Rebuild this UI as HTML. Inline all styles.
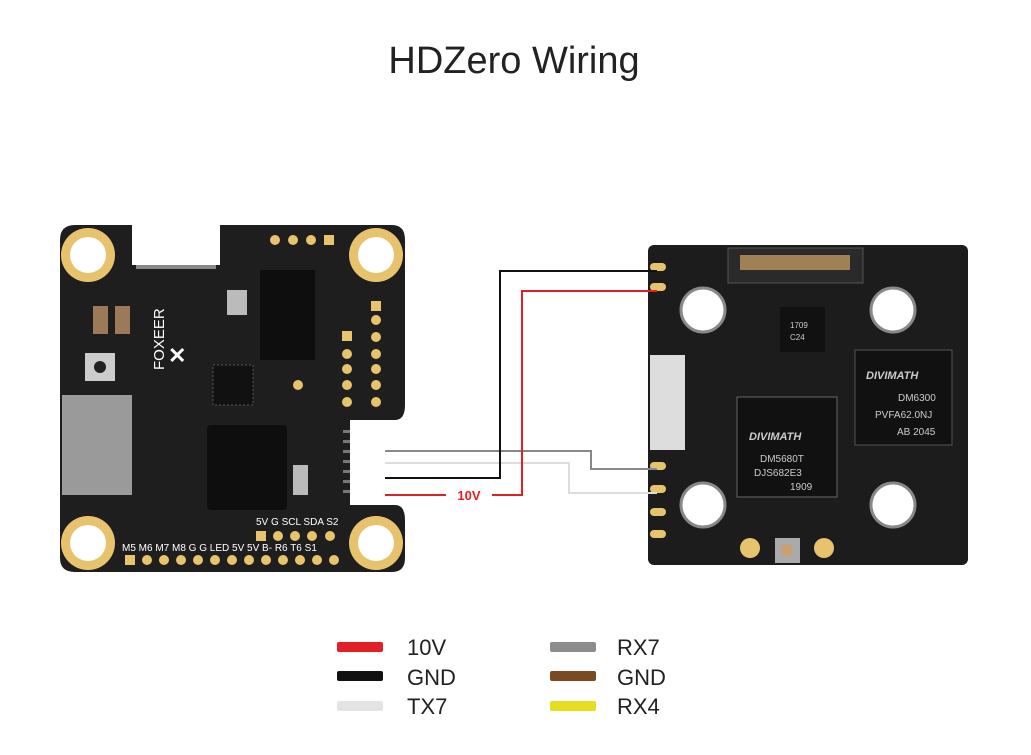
<!DOCTYPE html>
<html><head><meta charset="utf-8"><style>
html,body{margin:0;padding:0;background:#fff;}
svg{display:block;}
text{font-family:"Liberation Sans",sans-serif;}
</style></head><body>
<svg width="1031" height="755" viewBox="0 0 1031 755" xmlns="http://www.w3.org/2000/svg">
<rect width="1031" height="755" fill="#fff"/>
<text x="514" y="73" text-anchor="middle" font-size="38" fill="#222">HDZero Wiring</text>

<!-- FC board -->
<path d="M75,225 H392 Q405,225 405,240 V405 Q405,420 395,420 H350 V505 H395 Q405,505 405,520 V558 Q405,572 392,572 H75 Q60,572 60,558 V240 Q60,225 75,225 Z" fill="#1e1e1e"/>
<rect x="350" y="425" width="32" height="77" fill="#fff"/>
<g fill="#777"><rect x="343" y="430" width="7" height="3"/><rect x="343" y="440" width="7" height="3"/><rect x="343" y="450" width="7" height="3"/><rect x="343" y="460" width="7" height="3"/><rect x="343" y="470" width="7" height="3"/><rect x="343" y="480" width="7" height="3"/><rect x="343" y="490" width="7" height="3"/></g>
<g fill="#e8c36e"><circle cx="88" cy="255" r="27"/><circle cx="376" cy="255" r="27"/><circle cx="88" cy="543" r="27"/><circle cx="376" cy="543" r="27"/></g>
<g fill="#fff"><circle cx="88" cy="255" r="18"/><circle cx="376" cy="255" r="18"/><circle cx="88" cy="543" r="18"/><circle cx="376" cy="543" r="18"/></g>
<rect x="132" y="225" width="88" height="40" fill="#fff"/>
<g fill="#888"><rect x="136" y="265" width="80" height="4"/></g>
<rect x="62" y="395" width="70" height="100" fill="#9a9a9a"/>
<rect x="85" y="353" width="30" height="28" fill="#ccc"/><circle cx="100" cy="367" r="6" fill="#222"/>
<rect x="93" y="306" width="15" height="28" fill="#9c7a58"/><rect x="115" y="306" width="15" height="28" fill="#9c7a58"/>
<rect x="207" y="425" width="80" height="85" fill="#0e0e0e" rx="4"/>
<rect x="260" y="270" width="55" height="90" fill="#0e0e0e"/>
<rect x="213" y="365" width="40" height="40" fill="#111" stroke="#555" stroke-dasharray="2,2"/>
<rect x="227" y="290" width="20" height="25" fill="#bbb"/>
<rect x="293" y="465" width="15" height="30" fill="#bbb"/>
<text x="164" y="370" font-size="15" fill="#fff" transform="rotate(-90 164 370)">FOXEER</text>
<text x="168" y="363" font-size="22" fill="#fff" font-weight="bold">✕</text>
<g fill="#e8c36e">
<circle cx="275" cy="240" r="5"/><circle cx="293" cy="240" r="5"/><circle cx="311" cy="240" r="5"/><rect x="324" y="235" width="10" height="10"/>
<rect x="342" y="331" width="10" height="10"/><circle cx="347" cy="354" r="5"/><circle cx="347" cy="369" r="5"/><circle cx="347" cy="385" r="5"/><circle cx="347" cy="402" r="5"/>
<rect x="371" y="301" width="10" height="10"/><circle cx="376" cy="320" r="5"/><circle cx="376" cy="337" r="5"/><circle cx="376" cy="354" r="5"/><circle cx="376" cy="369" r="5"/><circle cx="376" cy="385" r="5"/><circle cx="376" cy="402" r="5"/>
<circle cx="298" cy="385" r="5"/>
<rect x="256" y="531" width="10" height="10"/><circle cx="278" cy="536" r="5"/><circle cx="295" cy="536" r="5"/><circle cx="312" cy="536" r="5"/><circle cx="330" cy="536" r="5"/>
<rect x="125" y="555" width="10" height="10"/>
<circle cx="147" cy="560" r="5"/><circle cx="164" cy="560" r="5"/><circle cx="181" cy="560" r="5"/><circle cx="198" cy="560" r="5"/><circle cx="215" cy="560" r="5"/><circle cx="232" cy="560" r="5"/><circle cx="249" cy="560" r="5"/><circle cx="266" cy="560" r="5"/><circle cx="283" cy="560" r="5"/><circle cx="300" cy="560" r="5"/><circle cx="317" cy="560" r="5"/><circle cx="334" cy="560" r="5"/>
</g>
<text x="122" y="551" font-size="10" fill="#fff">M5 M6 M7 M8  G   G LED 5V 5V B- R6 T6 S1</text>
<text x="256" y="525" font-size="10" fill="#fff">5V G SCL SDA S2</text>

<!-- VTX board -->
<rect x="648" y="245" width="320" height="320" rx="6" fill="#1c1c1c"/>
<rect x="650" y="355" width="35" height="95" fill="#ddd"/>
<rect x="728" y="248" width="135" height="35" fill="#2a2a2a" stroke="#555"/>
<rect x="740" y="255" width="110" height="15" fill="#a08055"/>
<g fill="#fff" stroke="#888" stroke-width="3"><circle cx="703" cy="310" r="22"/><circle cx="893" cy="310" r="22"/><circle cx="703" cy="505" r="22"/><circle cx="893" cy="505" r="22"/></g>
<rect x="737" y="397" width="100" height="100" fill="#111" stroke="#666"/>
<rect x="855" y="350" width="97" height="95" fill="#111" stroke="#555"/>
<rect x="780" y="307" width="45" height="45" fill="#111"/>
<text x="749" y="440" font-size="11" fill="#ccc" font-style="italic" font-weight="bold">DIVIMATH</text>
<text x="760" y="462" font-size="10" fill="#ccc">DM5680T</text>
<text x="754" y="476" font-size="10" fill="#ccc">DJS682E3</text>
<text x="790" y="490" font-size="10" fill="#ccc">1909</text>
<text x="866" y="379" font-size="11" fill="#ccc" font-style="italic" font-weight="bold">DIVIMATH</text>
<text x="898" y="401" font-size="10" fill="#ccc">DM6300</text>
<text x="875" y="418" font-size="10" fill="#ccc">PVFA62.0NJ</text>
<text x="897" y="435" font-size="10" fill="#ccc">AB 2045</text>
<text x="790" y="328" font-size="8" fill="#ccc">1709</text>
<text x="790" y="340" font-size="8" fill="#ccc">C24</text>
<g fill="#e8c36e"><circle cx="750" cy="548" r="10"/><circle cx="824" cy="548" r="10"/></g>
<rect x="775" y="538" width="25" height="25" fill="#aaa"/><circle cx="787" cy="550" r="6" fill="#c9a070"/>
<g fill="#e8c36e"><rect x="650" y="263" width="16" height="8" rx="4"/><rect x="650" y="283" width="16" height="8" rx="4"/><rect x="650" y="462" width="16" height="8" rx="4"/><rect x="650" y="485" width="16" height="8" rx="4"/><rect x="650" y="508" width="16" height="8" rx="4"/><rect x="650" y="530" width="16" height="8" rx="4"/></g>

<!-- wires -->
<g fill="none" stroke-width="2">
<polyline points="385,451 591,451 591,469 657,469" stroke="#888"/>
<polyline points="385,463 569,463 569,493 657,493" stroke="#ddd"/>
<polyline points="385,478 500,478 500,271 657,271" stroke="#111"/>
<polyline points="385,495 446,495" stroke="#e31e24"/>
<polyline points="492,495 522,495 522,291 657,291" stroke="#e31e24"/>
</g>
<text x="469" y="500" font-size="13" font-weight="bold" fill="#e31e24" text-anchor="middle">10V</text>

<!-- legend -->
<rect x="337" y="642" width="46" height="10" rx="2" fill="#e31e24"/>
<rect x="337" y="671" width="46" height="10" rx="2" fill="#111"/>
<rect x="337" y="701" width="46" height="10" rx="2" fill="#e3e3e3"/>
<rect x="550" y="642" width="46" height="10" rx="2" fill="#8c8c8c"/>
<rect x="550" y="671" width="46" height="10" rx="2" fill="#7b4a21"/>
<rect x="550" y="701" width="46" height="10" rx="2" fill="#e6dd20"/>
<g font-size="22" fill="#222">
<text x="407" y="655">10V</text><text x="407" y="685">GND</text><text x="407" y="714">TX7</text>
<text x="617" y="655">RX7</text><text x="617" y="685">GND</text><text x="617" y="714">RX4</text>
</g>
</svg>
</body></html>
